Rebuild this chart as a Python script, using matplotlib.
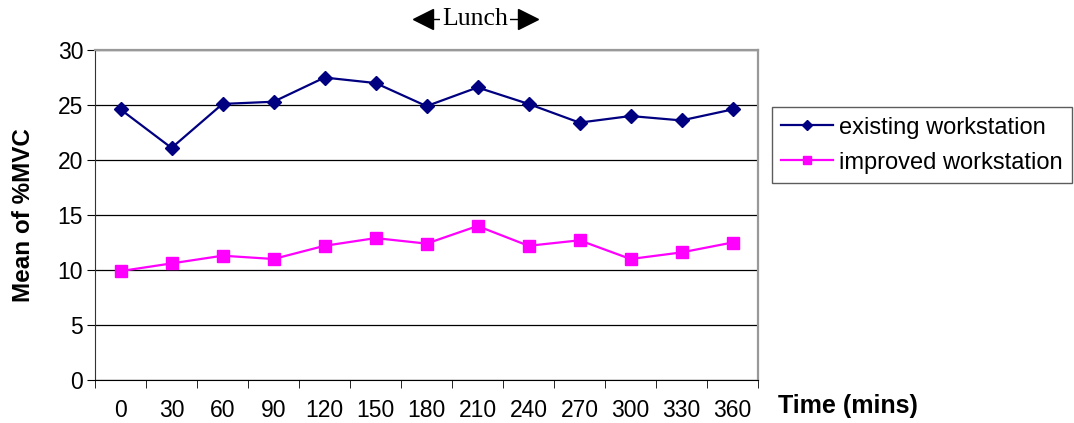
import matplotlib.pyplot as plt
from matplotlib import transforms
import numpy as np

plt.rcParams['font.family'] = ['Liberation Sans', 'DejaVu Sans']

times = ['0', '30', '60', '90', '120', '150', '180', '210', '240', '270', '300', '330', '360']
existing = [24.6, 21.1, 25.1, 25.3, 27.5, 27.0, 24.9, 26.6, 25.1, 23.4, 24.0, 23.6, 24.6]
improved = [9.9, 10.6, 11.3, 11.0, 12.2, 12.9, 12.4, 14.0, 12.2, 12.7, 11.0, 11.6, 12.5]

fig = plt.figure(figsize=(10.74, 4.23), dpi=100)
ax = fig.add_axes([0.0885, 0.1017, 0.6173, 0.78])

x = np.arange(len(times))
ax.plot(x, existing, color='#000080', marker='D', markersize=7, lw=1.6,
        label='existing workstation', zorder=3)
ax.plot(x, improved, color='#FF00FF', marker='s', markersize=8, lw=1.6,
        label='improved workstation', zorder=3)

ax.set_xlim(-0.5, len(times) - 0.5)
ax.set_ylim(0, 30)
ax.set_yticks(range(0, 31, 5))
ax.yaxis.grid(True, color='black', lw=0.9)
ax.set_axisbelow(True)

# category labels centred, ticks between categories
ax.set_xticks(x)
ax.set_xticklabels(times, fontsize=16.5)
ax.tick_params(axis='x', which='major', length=0, pad=14)
ax.set_xticks(np.arange(-0.5, len(times)), minor=True)
ax.tick_params(axis='x', which='minor', length=5.5, direction='out', color='black')
ax.tick_params(axis='y', labelsize=16.5, length=6, direction='out', pad=2.5)

for side in ['top', 'right']:
    ax.spines[side].set_color('#999999')
    ax.spines[side].set_linewidth(1.6)
ax.spines['bottom'].set_color('black')
ax.spines['left'].set_color('#333333')

fig.text(23 / 1074, 0.5 * (0.1017 + 0.8817), 'Mean of %MVC', fontsize=17.5,
         fontweight='bold', rotation=90, ha='center', va='center')
fig.text(0.7244, 0.04, 'Time (mins)', fontsize=18, fontweight='bold',
         ha='left', va='center')

# lunch marker above the 210 min sample
lunch = times.index('210')
trans = transforms.blended_transform_factory(ax.transData, fig.transFigure)
ends = [lunch - 1.07, lunch + 0.99]
ax.plot(ends, [0.955, 0.955], color='black', lw=1.0, transform=trans, clip_on=False)
ax.plot(ends[0], 0.955, marker='<', markersize=14, color='black',
        transform=trans, clip_on=False)
ax.plot(ends[1], 0.955, marker='>', markersize=14, color='black',
        transform=trans, clip_on=False)
ax.text(lunch - 0.05, 0.955, 'Lunch', transform=trans, ha='center', va='center',
        fontsize=18.5, family='Liberation Serif',
        bbox=dict(facecolor='white', edgecolor='none', pad=1.5))

leg = ax.legend(loc='center left', bbox_to_anchor=(1.021, 0.712), fontsize=17,
                frameon=True, fancybox=False, edgecolor='#333333',
                handlelength=2.2, borderpad=0.4, labelspacing=0.55,
                handletextpad=0.25, markerscale=0.8, borderaxespad=0)
leg.get_frame().set_linewidth(1.0)

fig.savefig('out.png', dpi=100)
